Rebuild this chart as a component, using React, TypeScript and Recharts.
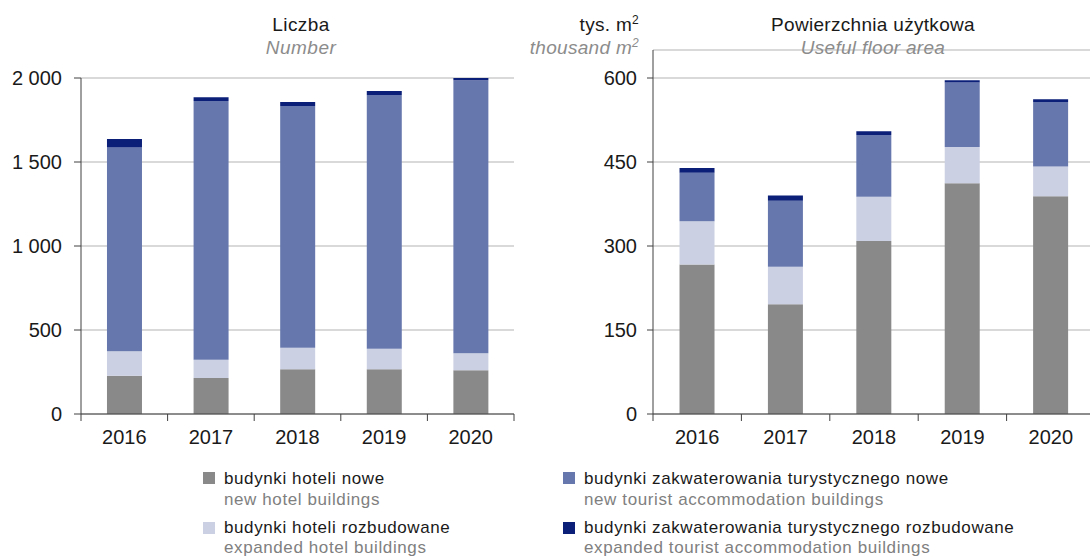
import React from 'react';
import { BarChart, Bar, XAxis, YAxis, CartesianGrid } from 'recharts';

const years = ['2016', '2017', '2018', '2019', '2020'];

// Liczba / Number
const countHotelNew = [228, 214, 266, 266, 260];
const countHotelExp = [145, 109, 129, 123, 101];
const countTouristNew = [1214, 1540, 1438, 1510, 1625];
const countTouristExp = [50, 22, 24, 24, 14];
const countTicks = [0, 500, 1000, 1500, 2000];

// Powierzchnia użytkowa / Useful floor area (tys. m2)
const areaHotelNew = [267, 196, 309, 412, 389];
const areaHotelExp = [77, 67, 79, 65, 53];
const areaTouristNew = [87, 118, 110, 115, 115];
const areaTouristExp = [8.5, 9, 7, 4, 5];
const areaTicks = [0, 150, 300, 450, 600];

const seriesPl = [
  'budynki hoteli nowe',
  'budynki hoteli rozbudowane',
  'budynki zakwaterowania turystycznego nowe',
  'budynki zakwaterowania turystycznego rozbudowane',
];
const seriesEn = [
  'new hotel buildings',
  'expanded hotel buildings',
  'new tourist accommodation buildings',
  'expanded tourist accommodation buildings',
];
const colors = ['#898989', '#cbd0e3', '#6677ad', '#0b1f78'];

const countData = years.map((y, i) => ({
  year: y,
  a: countHotelNew[i],
  b: countHotelExp[i],
  c: countTouristNew[i],
  d: countTouristExp[i],
}));
const areaData = years.map((y, i) => ({
  year: y,
  a: areaHotelNew[i],
  b: areaHotelExp[i],
  c: areaTouristNew[i],
  d: areaTouristExp[i],
}));

const FONT = '"Liberation Sans", Arial, sans-serif';
const AXIS = '#404040';

const fmt = (v: number) => {
  const s = String(v);
  return s.length > 3 ? s.slice(0, s.length - 3) + ' ' + s.slice(s.length - 3) : s;
};

const makeXTick = (fallbackHalf: number, total: number) => (props: any) => {
  const { x, y, payload, index } = props;
  const half =
    payload && typeof payload.offset === 'number' && payload.offset > 0 ? payload.offset : fallbackHalf;
  return (
    <g>
      <line x1={x - half} x2={x - half} y1={y} y2={y + 7} stroke={AXIS} strokeWidth={1} />
      {index === total - 1 && (
        <line x1={x + half} x2={x + half} y1={y} y2={y + 7} stroke={AXIS} strokeWidth={1} />
      )}
      <text x={x} y={y + 30} textAnchor="middle" fontSize={20} fill="#1a1a1a" fontFamily={FONT}>
        {payload.value}
      </text>
    </g>
  );
};

const YTick = (props: any) => {
  const { x, y, payload } = props;
  return (
    <text x={x} y={y} dy="0.36em" textAnchor="end" fontSize={20} fill="#1a1a1a" fontFamily={FONT}>
      {fmt(payload.value)}
    </text>
  );
};

const bars = ['a', 'b', 'c', 'd'].map((k, i) => (
  <Bar key={k} dataKey={k} stackId="s" fill={colors[i]} isAnimationActive={false} />
));

export default function App() {
  return (
    <div
      style={{
        position: 'absolute',
        left: 0,
        top: 0,
        width: 1090,
        height: 557,
        overflow: 'hidden',
        background: '#fff',
        fontFamily: FONT,
      }}
    >
      <div style={{ position: 'absolute', left: 0, top: 0 }}>
        <BarChart
          width={530}
          height={460}
          data={countData}
          margin={{ top: 78, right: 16, left: 0, bottom: 0 }}
          barCategoryGap="30%"
        >
          <CartesianGrid vertical={false} stroke="#b3b3b3" />
          <XAxis
            dataKey="year"
            height={46}
            axisLine={{ stroke: AXIS }}
            tickLine={false}
            tickSize={0}
            tickMargin={0}
            interval={0}
            tick={makeXTick(43.3, years.length)}
          />
          <YAxis
            width={81}
            domain={[0, 2000]}
            ticks={countTicks}
            axisLine={{ stroke: AXIS }}
            tickLine={{ stroke: AXIS }}
            tickSize={7}
            tickMargin={12}
            tick={<YTick />}
          />
          {bars}
        </BarChart>
      </div>
      <div style={{ position: 'absolute', left: 560, top: 0 }}>
        <BarChart
          width={540}
          height={460}
          data={areaData}
          margin={{ top: 50, right: 5, left: 0, bottom: 0 }}
          barCategoryGap="30%"
        >
          <CartesianGrid vertical={false} stroke="#b3b3b3" />
          <XAxis
            dataKey="year"
            height={46}
            axisLine={{ stroke: AXIS }}
            tickLine={false}
            tickSize={0}
            tickMargin={0}
            interval={0}
            tick={makeXTick(44.2, years.length)}
          />
          <YAxis
            width={93}
            domain={[0, 650]}
            ticks={areaTicks}
            axisLine={{ stroke: AXIS }}
            tickLine={{ stroke: AXIS }}
            tickSize={6}
            tickMargin={10}
            tick={<YTick />}
          />
          {bars}
        </BarChart>
      </div>
      <svg
        width={1090}
        height={557}
        style={{ position: 'absolute', left: 0, top: 0, pointerEvents: 'none' }}
        fontFamily={FONT}
      >
        <text x={301} y={31} textAnchor="middle" fontSize={19} letterSpacing={0.4} fill="#1a1a1a">
          Liczba
        </text>
        <text x={301} y={54} textAnchor="middle" fontSize={19} letterSpacing={0.5} fontStyle="italic" fill="#8c8c8c">
          Number
        </text>
        <text x={873} y={31} textAnchor="middle" fontSize={19} letterSpacing={0.3} fill="#1a1a1a">
          Powierzchnia użytkowa
        </text>
        <text x={873} y={54} textAnchor="middle" fontSize={19} letterSpacing={0.3} fontStyle="italic" fill="#8c8c8c">
          Useful floor area
        </text>
        <text x={639} y={31} textAnchor="end" fontSize={19} letterSpacing={0.3} fill="#1a1a1a">
          tys. m<tspan dy={-7} fontSize={12}>2</tspan>
        </text>
        <text x={639} y={54} textAnchor="end" fontSize={19} letterSpacing={0.3} fontStyle="italic" fill="#8c8c8c">
          thousand m<tspan dy={-7} fontSize={12}>2</tspan>
        </text>
        {seriesPl.map((s, i) => {
          const col = i < 2 ? 0 : 1;
          const row = i % 2;
          const sx = col === 0 ? 203 : 563;
          const tx = col === 0 ? 224 : 584;
          const sy = row === 0 ? 472 : 522;
          const b1 = row === 0 ? 484 : 533;
          const b2 = row === 0 ? 505 : 553;
          return (
            <g key={s}>
              <rect x={sx} y={sy} width={12} height={12} fill={colors[i]} />
              <text x={tx} y={b1} fontSize={17} letterSpacing={0.6} fill="#1a1a1a">
                {s}
              </text>
              <text x={tx} y={b2} fontSize={17} letterSpacing={0.6} fill="#808080">
                {seriesEn[i]}
              </text>
            </g>
          );
        })}
      </svg>
    </div>
  );
}
